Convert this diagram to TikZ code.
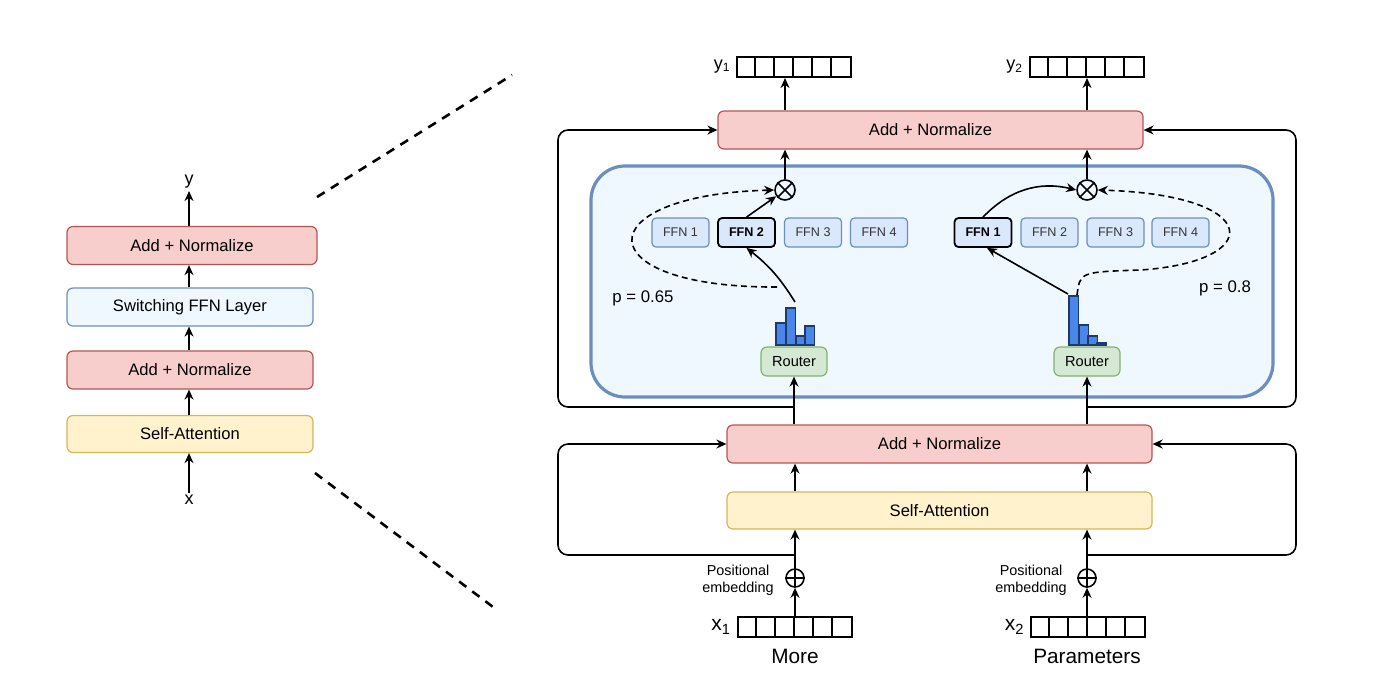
\documentclass[tikz,border=0pt]{standalone}
\usepackage{fontspec}
\setmainfont{Liberation Sans}
\usetikzlibrary{arrows.meta,positioning}
\definecolor{addfill}{HTML}{F8CECC}
\definecolor{addline}{HTML}{B85450}
\definecolor{safill}{HTML}{FFF2CC}
\definecolor{saline}{HTML}{D6B656}
\definecolor{ffnfill}{HTML}{DAE8FC}
\definecolor{ffnline}{HTML}{6C8EBF}
\definecolor{moefill}{HTML}{F0F8FF}
\definecolor{routfill}{HTML}{D5E8D4}
\definecolor{routline}{HTML}{82B366}
\definecolor{barfill}{HTML}{4A86E8}
\definecolor{barline}{HTML}{1C3A70}

\begin{document}
\begin{tikzpicture}[x=0.5pt,y=-0.5pt,
    arr/.style={-{Stealth[length=5pt,width=4.5pt]},line width=0.8pt},
    dsh/.style={arr,dash pattern=on 3pt off 2pt},
    zoomline/.style={line width=1.3pt,dash pattern=on 4.5pt off 3.7pt},
    block/.style={rectangle,rounded corners=3pt,line width=0.6pt,inner sep=0pt,
      font=\fontsize{8.3}{10}\selectfont},
    addbox/.style={block,draw=addline,fill=addfill,minimum height=19pt},
    sabox/.style={block,draw=saline,fill=safill,minimum height=18.5pt},
    ffn/.style={block,rounded corners=2pt,draw=ffnline,fill=ffnfill,minimum width=28.5pt,
      minimum height=14.5pt,text=black!80,font=\fontsize{6.3}{7}\selectfont},
    ffnsel/.style={ffn,draw=black,line width=0.9pt,text=black,font=\fontsize{6.3}{7}\selectfont\bfseries},
    router/.style={block,draw=routline,fill=routfill,minimum width=33pt,minimum height=14.5pt,
      font=\fontsize{7.3}{8}\selectfont},
    container/.style={rectangle,rounded corners=17pt,draw=ffnline,line width=1.6pt,fill=moefill,
      minimum width=341pt,minimum height=115.5pt},
    vec/.style={draw,line width=1pt,minimum width=57pt,minimum height=10pt,inner sep=0pt},
    mul/.style={circle,draw,line width=0.8pt,minimum size=10pt,inner sep=0pt},
    plus/.style={circle,draw,line width=0.8pt,minimum size=9pt,inner sep=0pt},
    bar/.style={fill=barfill,draw=barline,line width=0.6pt},
    lbl/.style={inner sep=1pt,font=\fontsize{8.4}{10}\selectfont}]
\useasboundingbox (0,0) rectangle (1400,698);

\node[sabox,minimum width=123pt] (lsa) at (190,434) {Self-Attention};
\node[addbox,minimum width=123pt] (ladd1) at (190,370) {Add + Normalize};
\node[block,draw=ffnline,fill=moefill,minimum width=123pt,minimum height=19pt] (lffn) at (190,307) {Switching FFN Layer};
\node[addbox,minimum width=125pt] (ladd2) at (192,245.5) {Add + Normalize};
\node[lbl,font=\fontsize{9}{10}\selectfont] (ly) at (189,182) {y};
\node[lbl,font=\fontsize{9}{10}\selectfont] (lx) at (189,500) {x};
\draw[arr] (lx) -- (lx |- lsa.south);
\draw[arr] (lsa.north -| lx) -- (lx |- ladd1.south);
\draw[arr] (ladd1.north -| lx) -- (lx |- lffn.south);
\draw[arr] (lffn.north -| lx) -- (lx |- ladd2.south);
\draw[arr] (ladd2.north -| lx) -- (ly);

\coordinate (za) at (317,197);
\coordinate (zb) at (512,75);
\coordinate (zc) at (315,473);
\coordinate (zd) at (497,610);
\draw[zoomline] (za) -- (zb);
\draw[zoomline] (zc) -- (zd);

\node[container] (moe) at (932,281.5) {};
\node[addbox,minimum width=212.5pt] (tadd) at (930.5,130) {Add + Normalize};
\node[addbox,minimum width=212.5pt] (badd) at (939.5,444) {Add + Normalize};
\node[sabox,minimum width=212.5pt] (bsa) at (939.5,510.5) {Self-Attention};

\foreach \i/\xx/\s in {1/680.5/ffn,2/746.5/ffnsel,3/813/ffn,4/879/ffn}
  \node[\s] (fa\i) at (\xx,232.5) {FFN \i};
\foreach \i/\xx/\s in {1/983/ffnsel,2/1049.5/ffn,3/1115.5/ffn,4/1180.5/ffn}
  \node[\s] (fb\i) at (\xx,232.5) {FFN \i};

\node[router] (r1) at (794,361.5) {Router};
\node[router] (r2) at (1087,361.5) {Router};
\foreach \xa/\ya in {776/323,786/308,796/336,805/326}
  \draw[bar] (\xa,\ya) rectangle ++(9.5,{345-\ya});
\foreach \xa/\ya in {1069/296,1079/325,1088/336,1097/343}
  \draw[bar] (\xa,\ya) rectangle ++(9.5,{345-\ya});

\node[mul] (m1) at (785,190) {};
\node[mul] (m2) at (1087,190) {};
\foreach \m in {m1,m2}
  \draw[line width=0.8pt] (\m.north east) -- (\m.south west) (\m.north west) -- (\m.south east);

\node[vec] (y1v) at (794,67) {};
\node[vec] (y2v) at (1086.5,67) {};
\node[vec] (x1v) at (794.5,627) {};
\node[vec] (x2v) at (1088,627) {};
\foreach \v in {y1v,y2v,x1v,x2v}
  \foreach \k in {1,...,5}
    \draw[line width=1pt] ([xshift=\k*9.5pt]\v.south west) -- ([xshift=\k*9.5pt]\v.north west);
\node[lbl,left=1.5pt of y1v,font=\fontsize{9}{10}\selectfont] (y1l) {y\textsubscript{1}};
\node[lbl,left=1.5pt of y2v,font=\fontsize{9}{10}\selectfont] (y2l) {y\textsubscript{2}};
\node[lbl,left=1.5pt of x1v,font=\fontsize{10.5}{12}\selectfont] (x1l) {x\textsubscript{1}};
\node[lbl,left=1.5pt of x2v,font=\fontsize{10.5}{12}\selectfont] (x2l) {x\textsubscript{2}};
\node[anchor=base,font=\fontsize{10.4}{12}\selectfont] (more) at (795,663) {More};
\node[anchor=base,font=\fontsize{10.4}{12}\selectfont] (params) at (1087,663) {Parameters};

\node[plus] (p1) at (795,578) {};
\node[plus] (p2) at (1087,578) {};
\foreach \p in {p1,p2}
  \draw[line width=0.8pt] (\p.north) -- (\p.south) (\p.west) -- (\p.east);
\node[align=center,font=\fontsize{7.2}{8.5}\selectfont] (pe1) at (738,580) {Positional\\embedding};
\node[align=center,font=\fontsize{7.2}{8.5}\selectfont] (pe2) at (1031,580) {Positional\\embedding};

\draw[arr] (x1v.north -| p1) -- (p1.south);
\draw[arr] (x2v.north -| p2) -- (p2.south);
\draw[arr] (p1.north) -- (bsa.south -| p1);
\draw[arr] (p2.north) -- (bsa.south -| p2);
\draw[arr] (bsa.north -| p1) -- (badd.south -| p1);
\draw[arr] (bsa.north -| p2) -- (badd.south -| p2);
\draw[arr] (badd.north -| r1) -- (r1.south);
\draw[arr] (badd.north -| r2) -- (r2.south);

\coordinate (lb) at (558,555);
\coordinate (rb) at (1296,555);
\coordinate (lt) at (558,407);
\coordinate (rt) at (1296,407);
\draw[arr,rounded corners=5pt] (lb -| p1) -- (lb) |- (badd.west);
\draw[arr,rounded corners=5pt] (rb -| p2) -- (rb) |- (badd.east);
\draw[arr,rounded corners=5pt] (lt -| r1) -- (lt) |- (tadd.west);
\draw[arr,rounded corners=5pt] (rt -| r2) -- (rt) |- (tadd.east);

\coordinate (ha) at (795,302);
\coordinate (hb) at (1068,294);
\coordinate (da) at (777,287);
\coordinate (db) at (1077,295);
\draw[arr] (ha) to[bend right=10] (fa2.south);
\draw[arr] (fa2.north) -- (m1);
\draw[arr] (hb) -- ([xshift=2pt]fb1.south);
\draw[arr] (fb1.north) to[bend left=30] (m2.west);
\draw[dsh] (da) .. controls (585,288) and (585,195) .. (m1.west);
\draw[dsh] (db) .. controls (1080,272) .. (1140,270) .. controls (1265,262) and (1265,195) .. (m2.east);
\node[lbl] (pa) at (643,298) {p = 0.65};
\node[lbl] (pb) at (1225,288) {p = 0.8};

\draw[arr] (m1.north) -- (tadd.south -| m1);
\draw[arr] (m2.north) -- (tadd.south -| m2);
\draw[arr] (tadd.north -| m1) -- (y1v.south -| m1);
\draw[arr] (tadd.north -| m2) -- (y2v.south -| m2);
\end{tikzpicture}
\end{document}
